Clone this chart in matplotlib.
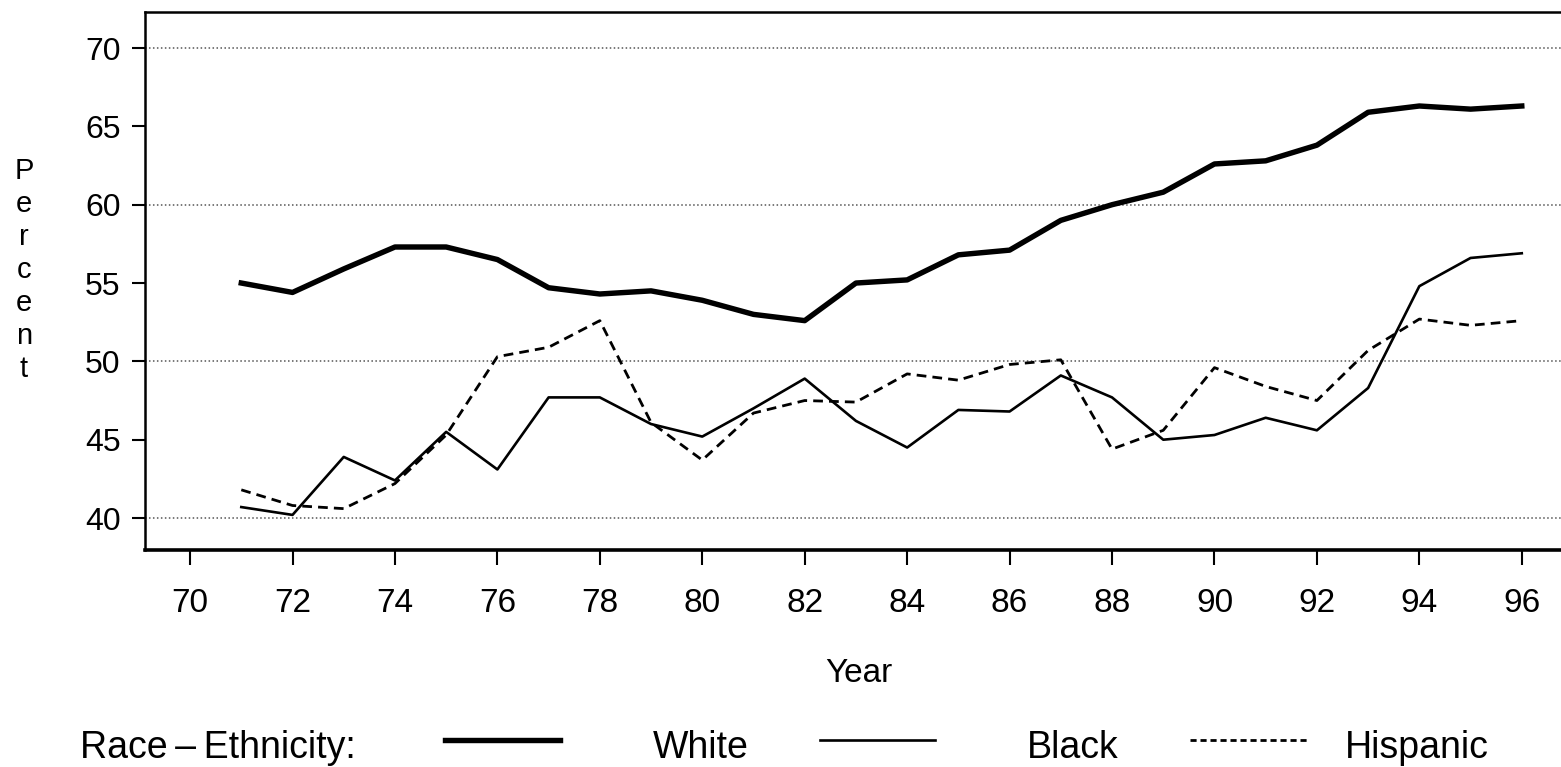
import matplotlib
matplotlib.use("Agg")
import matplotlib.pyplot as plt
from matplotlib.lines import Line2D

years = list(range(71, 97))
white = [55.0, 54.4, 55.9, 57.3, 57.3, 56.5, 54.7, 54.3, 54.5, 53.9, 53.0, 52.6,
         55.0, 55.2, 56.8, 57.1, 59.0, 60.0, 60.8, 62.6, 62.8, 63.8, 65.9, 66.3, 66.1, 66.3]
black = [40.7, 40.2, 43.9, 42.4, 45.5, 43.1, 47.7, 47.7, 46.0, 45.2, 47.0, 48.9,
         46.2, 44.5, 46.9, 46.8, 49.1, 47.7, 45.0, 45.3, 46.4, 45.6, 48.3, 54.8, 56.6, 56.9]
hispanic = [41.8, 40.8, 40.6, 42.2, 45.3, 50.3, 50.9, 52.6, 46.1, 43.7, 46.7, 47.5,
            47.4, 49.2, 48.8, 49.8, 50.1, 44.4, 45.6, 49.6, 48.4, 47.5, 50.7, 52.7, 52.3, 52.6]
xticks = list(range(70, 97, 2))
yticks = [40, 45, 50, 55, 60, 65, 70]
gridvals = [40, 50, 60, 70]

plt.rcParams['font.family'] = ['Liberation Sans', 'DejaVu Sans']

fig = plt.figure(figsize=(15.61, 7.67), dpi=100)
W, H = 1561, 767
ax = fig.add_axes([145 / W, 1 - 550 / H, (1573 - 145) / W, (550 - 12) / H])
ax.set_xlim(69.12, 97.0)
ax.set_ylim(37.96, 72.3)

for g in gridvals:
    ax.axhline(g, color='#555555', lw=1.1, linestyle=(0, (1, 1.6)), zorder=1)

ax.plot(years, white, color='black', lw=3.9, solid_joinstyle='round', zorder=3)
ax.plot(years, black, color='black', lw=1.9, zorder=3)
ax.plot(years, hispanic, color='black', lw=2.0, linestyle=(0, (3.5, 2.2)), zorder=3)

ax.spines['right'].set_visible(False)
for s in ['left', 'top']:
    ax.spines[s].set_linewidth(1.8)
ax.spines['bottom'].set_linewidth(2.6)

ax.set_xticks(xticks)
ax.set_xticklabels([str(x) for x in xticks])
ax.set_yticks(yticks)
ax.set_yticklabels([str(y) for y in yticks])
ax.tick_params(axis='x', direction='out', length=11, width=1.5, pad=16, labelsize=24)
ax.tick_params(axis='y', direction='out', length=9.5, width=1.5, pad=8, labelsize=23)

fig.text(859 / W, 1 - 673 / H, 'Year', ha='center', va='center', fontsize=24)
fig.text(24 / W, 1 - 270 / H, '\n'.join('Percent'), ha='center', va='center',
         fontsize=21, linespacing=1.22)

ly = 1 - 748 / H
lly = 1 - 740 / H
fig.text(80 / W, ly, 'Race\u2009\u2013\u2009Ethnicity:', ha='left', va='center', fontsize=27)
fig.add_artist(Line2D([445 / W, 560 / W], [lly, lly], color='black', lw=3.9))
fig.text(653 / W, ly, 'White', ha='left', va='center', fontsize=27)
fig.add_artist(Line2D([820 / W, 935 / W], [lly, lly], color='black', lw=1.9))
fig.text(1027 / W, ly, 'Black', ha='left', va='center', fontsize=27)
fig.add_artist(Line2D([1190 / W, 1310 / W], [lly, lly], color='black', lw=2.0,
                      linestyle=(0, (2.2, 1.4))))
fig.text(1345 / W, ly, 'Hispanic', ha='left', va='center', fontsize=27)

fig.savefig('out.png', dpi=100)
